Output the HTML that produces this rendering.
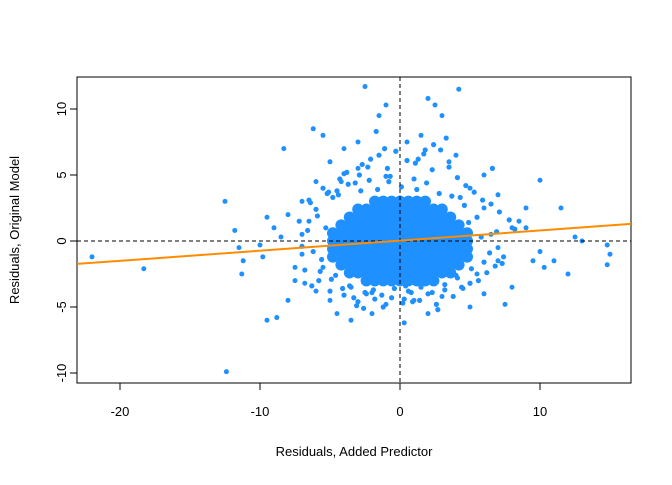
<!DOCTYPE html>
<html><head><meta charset="utf-8"><style>
body{margin:0;background:#fff}
svg text{font-family:"Liberation Sans",Arial,sans-serif;font-size:13px;fill:#000}
</style></head><body>
<svg id="chart" width="672" height="480">
<rect x="77" y="77" width="554" height="306" fill="none" stroke="#000"/>
<g id="axes"></g>
<g id="pts"></g>
<g id="ref"></g>
<text x="354" y="456" text-anchor="middle">Residuals, Added Predictor</text>
<text transform="translate(19,230) rotate(-90)" text-anchor="middle">Residuals, Original Model</text>
</svg>
<script>
const xTicks=[-20,-10,0,10];
const yTicks=[-10,-5,0,5,10];
const outX=[-22,-18.3,-12.4,-12.5,-11.8,-11.5,-11.2,-11.3,-9.5,-8.8,-8.3,-9,-9.5,-10,-9.8,-8,-7,-6.2,-5.5,-3.5,-4.5,-2.5,-1.5,-1,0.3,2,2.5,4.2,3,1.5,10,11.5,12,11,14.8,14.8,15,13,9,8.5,10,10.3,12.5,6,7,8,7.5,6,5,-6,-7,-8,-7.5,-6,-5,-4,-3,0.5,-2,2,-1,1,3,4,5,-7,6.5,7,-5.5,9.5,-6.5,-7.5,8,7,6,-8.5,-6.8,9,5.5,-5,-3,3.5,-4.2,4.5];
const outY=[-1.2,-2.1,-9.9,3,0.8,-0.5,-1.5,-2.5,-6,-5.8,7,1,1.8,-0.3,-1.2,-4.5,-1,8.5,8,-6,-5.5,11.7,9.5,10.3,-6.2,10.8,10.3,11.5,9.5,8,4.6,2.5,-2.5,-1.5,-1.8,-0.3,-1,0,2.5,1.5,-0.8,-2,0.3,5,3.5,-3.5,-4.8,-4,-5,4.5,3,2,-3,-3.8,6,7,7.5,7.5,-5.5,-5.5,-4.8,-4.5,-4.2,6.5,4,0.5,0.5,-1.5,-2,-1.5,1.5,-2,1,-0.5,2.5,0.3,-3.2,1,-2.5,-4.5,5.5,6,4.5,-3.6];
const midX=[-7.2,-6.8,-6.5,-6.2,-6,-5.8,-5.5,-5.3,-5,-4.8,-4.6,-4.3,-4,-3.8,-3.5,-3.2,-3,-2.7,-2.4,-2.1,-1.8,-1.5,-1.2,-0.9,-0.6,-0.3,0.2,0.5,0.8,1.1,1.4,1.7,2,2.3,2.6,2.9,3.2,3.5,3.8,4.1,4.4,4.7,5,5.3,5.6,5.9,6.2,6.5,6.8,7.1,7.4,7.8,8.2,-7,-6.6,-6.3,-5.9,-5.6,-5.2,-4.9,-4.5,-4.1,-3.7,-3.3,-2.9,-2.5,-2.2,-1.9,-1.6,-1.3,-0.8,-0.4,0.1,0.6,1,1.5,1.9,2.3,2.8,3.2,3.7,4.1,4.6,5.1,5.5,6,6.4,6.9,7.3,-6.4,-5.7,-5.1,-4.4,-3.6,-2.8,-2,-1,0.3,1.2,2.2,3.1,4,4.9,5.8,6.6,-3.1,-2.3,-1.1,0.4,1.3,2.4,3.3,-2.6,-0.7,0.9,2.7,-4,4.3,-1.7,1.8];
const midY=[1.5,-2.2,3.1,-0.8,2.4,-3,4,1,-3.8,3.3,-2.6,4.7,-4.1,5.2,-3.5,4.4,-4.6,5.8,-4,6.2,-4.4,6.5,-5,5.5,-4.3,6.8,-4.7,6.1,-3.9,5.9,-4.5,6.6,-4,5.4,-4.8,6.9,-3.7,5.6,-4.2,4.8,-3.5,4.2,-3.2,3.7,-3,3.1,-2.4,2.8,-1.9,2.2,-1.2,1.6,0.9,-0.4,0.8,-3.4,1.9,-1.4,3.6,-2.9,3.8,-3.6,4.3,-4.3,5,-3.9,4.6,-3.7,3.9,-4.1,4.5,-3.6,4.1,-3.8,4.7,-3.5,4.4,-3.9,3.6,-3.3,3.4,-2.8,2.7,-2.1,1.8,-1.6,-0.9,0.7,-1.7,2.9,-2.3,3.7,3.5,-3.4,3.8,-3.9,4.9,-4.4,3.9,-3.1,2.5,-2.6,1.4,0.3,5.5,-4.9,5.6,7,-3.4,6.2,7.3,7.8,-5.1,4.9,-4.6,-5.2,5.1,3.3,8.3,6.9];
const coreX=[-1.8,-1.2,-0.6,0,0.6,1.2,1.8,
-3,-2.4,-1.8,-1.2,-0.6,0,0.6,1.2,1.8,2.4,3,
-3.6,-3,-2.4,-1.8,-1.2,-0.6,0,0.6,1.2,1.8,2.4,3,3.6,
-4.2,-3.6,-3,-2.4,-1.8,-1.2,-0.6,0,0.6,1.2,1.8,2.4,3,3.6,4.2,
-4.8,-4.2,-3.6,-3,-2.4,-1.8,-1.2,-0.6,0,0.6,1.2,1.8,2.4,3,3.6,4.2,4.8,
-4.8,-4.2,-3.6,-3,-2.4,-1.8,-1.2,-0.6,0,0.6,1.2,1.8,2.4,3,3.6,4.2,4.8,
-4.8,-4.2,-3.6,-3,-2.4,-1.8,-1.2,-0.6,0,0.6,1.2,1.8,2.4,3,3.6,4.2,4.8,
-4.8,-4.2,-3.6,-3,-2.4,-1.8,-1.2,-0.6,0,0.6,1.2,1.8,2.4,3,3.6,4.2,4.8,
-4.2,-3.6,-3,-2.4,-1.8,-1.2,-0.6,0,0.6,1.2,1.8,2.4,3,3.6,4.2,
-3.6,-3,-2.4,-1.8,-1.2,-0.6,0,0.6,1.2,1.8,2.4,3,3.6,
-2.4,-1.8,-1.2,-0.6,0,0.6,1.2,1.8,2.4];
const coreY=[3,3,3,3,3,3,3,
2.4,2.4,2.4,2.4,2.4,2.4,2.4,2.4,2.4,2.4,2.4,
1.8,1.8,1.8,1.8,1.8,1.8,1.8,1.8,1.8,1.8,1.8,1.8,1.8,
1.2,1.2,1.2,1.2,1.2,1.2,1.2,1.2,1.2,1.2,1.2,1.2,1.2,1.2,1.2,
0.6,0.6,0.6,0.6,0.6,0.6,0.6,0.6,0.6,0.6,0.6,0.6,0.6,0.6,0.6,0.6,0.6,
0,0,0,0,0,0,0,0,0,0,0,0,0,0,0,0,0,
-0.6,-0.6,-0.6,-0.6,-0.6,-0.6,-0.6,-0.6,-0.6,-0.6,-0.6,-0.6,-0.6,-0.6,-0.6,-0.6,-0.6,
-1.2,-1.2,-1.2,-1.2,-1.2,-1.2,-1.2,-1.2,-1.2,-1.2,-1.2,-1.2,-1.2,-1.2,-1.2,-1.2,-1.2,
-1.8,-1.8,-1.8,-1.8,-1.8,-1.8,-1.8,-1.8,-1.8,-1.8,-1.8,-1.8,-1.8,-1.8,-1.8,
-2.4,-2.4,-2.4,-2.4,-2.4,-2.4,-2.4,-2.4,-2.4,-2.4,-2.4,-2.4,-2.4,
-3,-3,-3,-3,-3,-3,-3,-3,-3];
const fitIntercept=0.03, fitSlope=0.0766;
const xMin=-23.07,xMax=16.5;

const NS="http://www.w3.org/2000/svg";
const sx=v=>400+v*14, sy=v=>241-v*13.2;
function mk(t,a,p){const e=document.createElementNS(NS,t);for(const k in a)e.setAttribute(k,a[k]);p.appendChild(e);return e;}
const ax=document.getElementById('axes');
mk('line',{x1:sx(-20),x2:sx(10),y1:383,y2:383,stroke:'#000'},ax);
xTicks.forEach(t=>{mk('line',{x1:sx(t),x2:sx(t),y1:383,y2:390,stroke:'#000'},ax);
 const e=mk('text',{x:sx(t),y:416,'text-anchor':'middle'},ax);e.textContent=t;
 
 });
mk('line',{x1:77,x2:77,y1:sy(-10),y2:sy(10),stroke:'#000'},ax);
yTicks.forEach(t=>{mk('line',{x1:70,x2:77,y1:sy(t),y2:sy(t),stroke:'#000'},ax);
 const e=mk('text',{transform:`translate(66,${sy(t)}) rotate(-90)`,'text-anchor':'middle'},ax);e.textContent=t;
 
 });
const pg=document.getElementById('pts');
coreX.forEach((x,i)=>{const c=mk('circle',{cx:sx(x),cy:sy(coreY[i]),r:5.8,fill:'#1E90FF'},pg);
 
 });
midX.forEach((x,i)=>{const c=mk('circle',{cx:sx(x),cy:sy(midY[i]),r:2.6,fill:'#1E90FF'},pg);
 
 });
outX.forEach((x,i)=>{const c=mk('circle',{cx:sx(x),cy:sy(outY[i]),r:2.5,fill:'#1E90FF'},pg);
 
 });
const rg=document.getElementById('ref');
const h=mk('line',{x1:77,x2:631,y1:sy(0),y2:sy(0),stroke:'#000','stroke-dasharray':'4,3'},rg);


const v=mk('line',{x1:sx(0),x2:sx(0),y1:77,y2:383,stroke:'#000','stroke-dasharray':'4,3'},rg);


const f=mk('line',{x1:sx(xMin),x2:sx(xMax),y1:sy(fitIntercept+fitSlope*xMin),y2:sy(fitIntercept+fitSlope*xMax),stroke:'#FF8C00','stroke-width':2},rg);


</script>
</body></html>
